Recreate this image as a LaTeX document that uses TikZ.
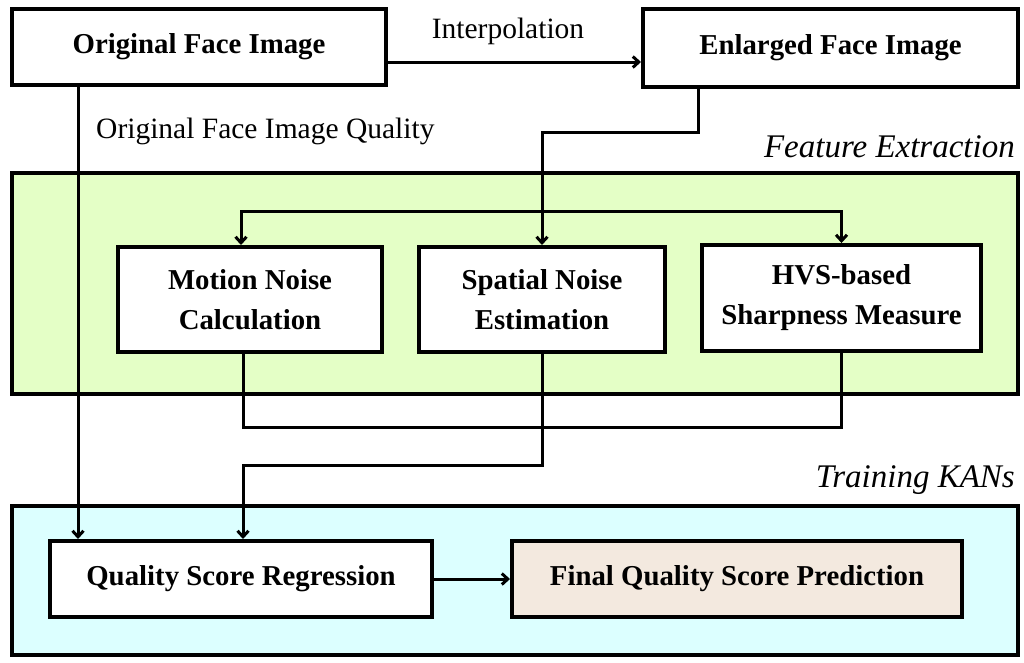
\documentclass[tikz,border=0pt]{standalone}
\usepackage{fontspec}
\setmainfont{Liberation Serif}
\usetikzlibrary{arrows.meta,calc}
\definecolor{greenbg}{HTML}{E4FFC6}
\definecolor{cyanbg}{HTML}{DCFFFF}
\definecolor{finalbg}{HTML}{F3E9DF}
\begin{document}
\begin{tikzpicture}[x=1pt,y=-1pt,
  box/.style={draw=black,line width=4pt,fill=white,inner sep=0pt,align=center,
     font=\fontsize{28.8}{40}\selectfont\bfseries},
  panel/.style={draw=black,line width=4pt,inner sep=0pt},
  conn/.style={line width=3pt},
  arr/.style={conn,-{Straight Barb[length=6pt,width=11pt]}},
  lbl/.style={inner sep=0pt,font=\fontsize{29.5}{34}\selectfont},
  ilbl/.style={inner sep=0pt,font=\fontsize{33}{38}\selectfont\itshape}]
\useasboundingbox (0,0) rectangle (1024,662);
% panels
\node[panel,fill=greenbg,minimum width=1006pt,minimum height=221pt] (green) at (515,283.5) {};
\node[panel,fill=cyanbg,minimum width=1006pt,minimum height=149pt] (cyan) at (515,580.5) {};
% junction levels
\coordinate (j1) at (0,132);
\coordinate (j2) at (0,211);
\coordinate (j3) at (0,427);
\coordinate (j4) at (0,465);
% boxes
\node[box,minimum width=374pt,minimum height=76pt] (orig) at (199,47) {Original Face Image};
\node[box,minimum width=375pt,minimum height=78pt] (enl) at (830.5,48) {Enlarged Face Image};
\node[box,minimum width=264pt,minimum height=105pt] (mot) at (250,299.5) {Motion Noise\\Calculation};
\node[box,minimum width=246pt,minimum height=105pt] (spat) at (542,299.5) {Spatial Noise\\Estimation};
\node[box,minimum width=279pt,minimum height=106pt] (hvs) at (841.5,298) {HVS-based\\Sharpness Measure};
\node[box,minimum width=382pt,minimum height=76pt] (qsr) at (241,579) {Quality Score Regression};
\node[box,fill=finalbg,minimum width=450pt,minimum height=76pt] (final) at (737,579) {Final Quality Score Prediction};
% helper coordinates on boxes
\coordinate (motin) at ([xshift=-9pt]mot.north);
\coordinate (motout) at ([xshift=-7pt]mot.south);
\coordinate (qin) at ([xshift=2pt]qsr.north);
\coordinate (qin2) at ([xshift=30pt]qsr.north west);
\coordinate (origout) at ([xshift=68pt]orig.south west);
\coordinate (enlout) at ([xshift=57pt]enl.south west);
% connectors
\draw[arr] ([yshift=-15pt]orig.east) -- ([yshift=-14pt]enl.west);
\draw[arr] (origout) -- (qin2);
\draw[arr] (enlout) |- (j1 -| spat.north) -- (spat.north);
\draw[arr] (j2 -| spat.north) -| (motin);
\draw[arr] (j2 -| spat.north) -| (hvs.north);
\draw[conn] (motout) |- (j3 -| hvs.south) -- (hvs.south);
\draw[arr] (spat.south) -- (spat.south |- j4) -| (qin);
\draw[arr] (qsr.east) -- (final.west);
% labels
\node[lbl] (interp) at (508,31) {Interpolation};
\node[lbl,anchor=west] (oqual) at (96,131) {Original Face Image Quality};
\node[ilbl,anchor=east] (fe) at (1015,147) {Feature Extraction};
\node[ilbl,anchor=east] (tk) at (1015,480) {Training KANs};
\end{tikzpicture}
\end{document}
